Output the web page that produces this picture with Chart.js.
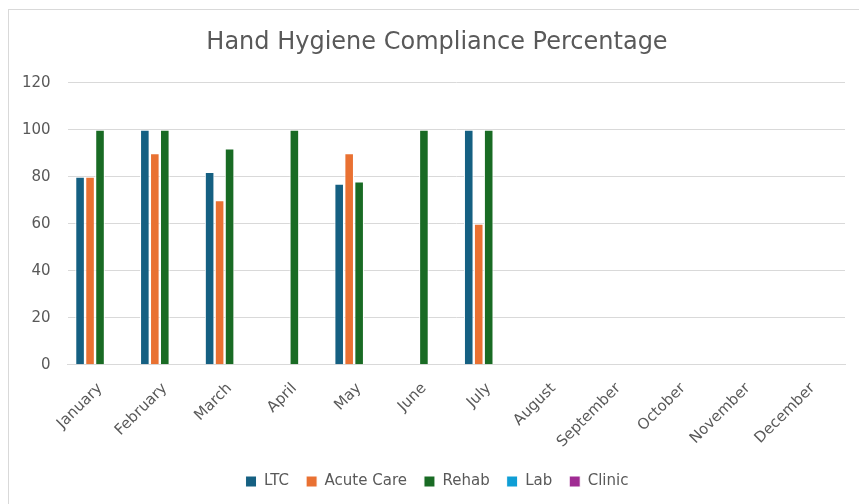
<!DOCTYPE html>
<html>
<head>
<meta charset="utf-8">
<script src="https://cdn.jsdelivr.net/npm/chart.js@4"></script>
<style>
  html, body { margin: 0; padding: 0; background: #fff; overflow: hidden; }
  #frame {
    position: absolute; left: 8px; top: 9px;
    width: 858px; height: 500px;
    border: 1px solid #d9d9d9;
  }
</style>
</head>
<body>
<div id="frame"><canvas id="hygiene" width="858" height="494"></canvas></div>
<script>
const months = ['January', 'February', 'March', 'April', 'May', 'June', 'July',
  'August', 'September', 'October', 'November', 'December'];
const ltc = [80, 100, 82, null, 77, null, 100, null, null, null, null, null];
const acuteCare = [80, 90, 70, null, 90, null, 60, null, null, null, null, null];
const rehab = [100, 100, 92, 100, 78, 100, 100, null, null, null, null, null];
const lab = [null, null, null, null, null, null, null, null, null, null, null, null];
const clinic = [null, null, null, null, null, null, null, null, null, null, null, null];
const yTicks = [0, 20, 40, 60, 80, 100, 120];

const fontFamily = '"DejaVu Sans", sans-serif';
const textGrey = '#595959';

function bars(label, data, color) {
  return {
    label: label,
    data: data,
    backgroundColor: color,
    borderColor: '#ffffff',
    borderWidth: 1,
    categoryPercentage: 0.77,
    barPercentage: 0.96
  };
}

const ctx = document.getElementById('hygiene').getContext('2d');

var chart = new Chart(ctx, {
  type: 'bar',
  data: {
    labels: months,
    datasets: [
      bars('LTC', ltc, '#156082'),
      bars('Acute Care', acuteCare, '#E97132'),
      bars('Rehab', rehab, '#196B24'),
      bars('Lab', lab, '#0F9ED5'),
      bars('Clinic', clinic, '#A02B93')
    ]
  },
  options: {
    responsive: false,
    animation: false,
    layout: {
      padding: { left: -4, right: -2, top: 0, bottom: 5 }
    },
    plugins: {
      title: {
        display: true,
        text: 'Hand Hygiene Compliance Percentage',
        color: textGrey,
        font: { family: fontFamily, size: 24, weight: 'normal' },
        padding: { top: 18, bottom: 26 }
      },
      legend: {
        position: 'bottom',
        labels: {
          color: textGrey,
          font: { family: fontFamily, size: 15 },
          boxWidth: 11,
          boxHeight: 11,
          padding: 17
        }
      },
      tooltip: { enabled: false }
    },
    scales: {
      x: {
        grid: { display: false },
        border: { color: '#d9d9d9', width: 1 },
        ticks: {
          color: textGrey,
          font: { family: fontFamily, size: 15 },
          minRotation: 45,
          maxRotation: 45,
          padding: 7
        },
        afterFit: function (axis) {
          axis.paddingLeft = 0;
          axis.paddingRight = 22;
          axis.height -= 1;
        }
      },
      y: {
        min: 0,
        max: 120,
        afterBuildTicks: function (axis) {
          axis.ticks = yTicks.map(v => ({ value: v }));
        },
        grid: { color: '#d9d9d9', lineWidth: 1, drawTicks: false },
        border: { display: false },
        ticks: {
          color: textGrey,
          font: { family: fontFamily, size: 15 },
          padding: 17
        }
      }
    }
  }
});
</script>
</body>
</html>
